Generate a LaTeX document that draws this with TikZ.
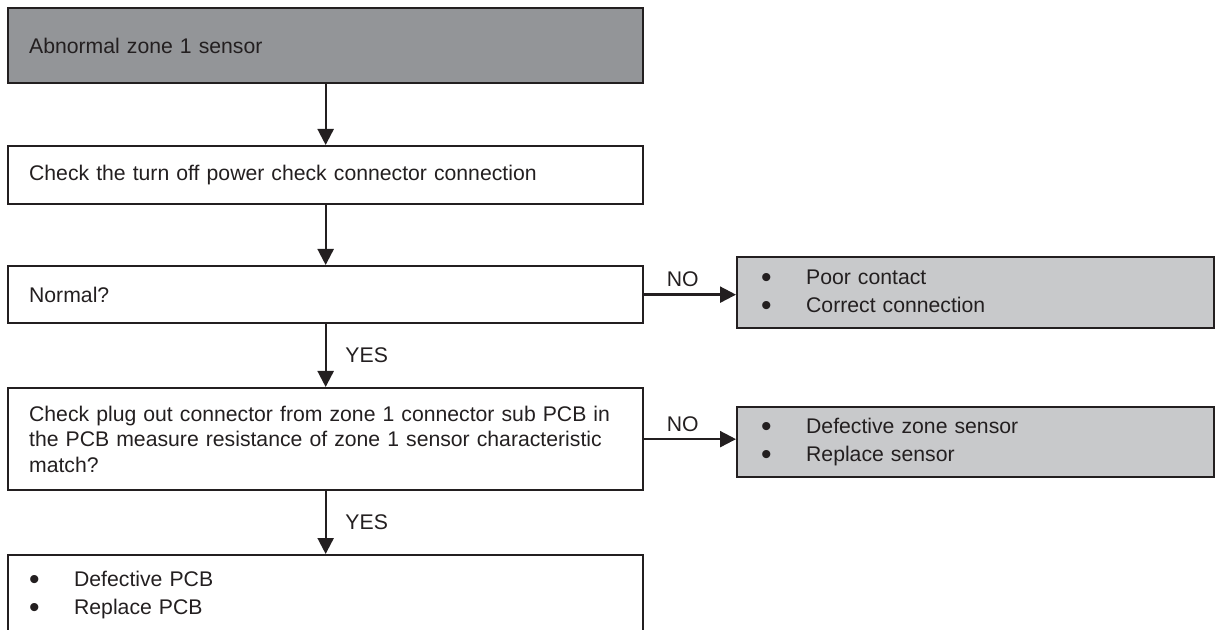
\documentclass[tikz,border=0pt]{standalone}
\usepackage{fontspec}
\setmainfont{Liberation Sans}
\usetikzlibrary{arrows.meta}
\definecolor{darkbox}{RGB}{147,149,152}
\definecolor{lightbox}{RGB}{200,201,203}
\definecolor{ink}{RGB}{35,31,32}
\newcommand\myitem[1]{\makebox[22.5pt][l]{\raisebox{-1.4pt}{\fontsize{15pt}{0pt}\selectfont\textbullet}}#1}
\begin{document}
\begin{tikzpicture}[x=0.5pt,y=-0.5pt,
  box/.style={draw=ink, line width=1.15pt, rectangle, anchor=north west,
    inner xsep=10.5pt, inner ysep=0pt, align=left, text=ink,
    font=\fontsize{10.6pt}{12.75pt}\selectfont,
    minimum width=317.5pt, text width=296.5pt},
  nobox/.style={box, fill=lightbox, inner xsep=12pt,
    minimum width=238.5pt, text width=214.5pt},
  arr/.style={draw=ink, line width=1.15pt, -{Triangle[length=8pt,width=8pt]}},
  lbl/.style={text=ink, font=\fontsize{10.6pt}{12.75pt}\selectfont}
]
\useasboundingbox (0,0) rectangle (1215,630);
\clip (0,0) rectangle (1215,630);

\node[box, fill=darkbox, minimum height=37.5pt] (b1) at (7,7) {Abnormal zone 1 sensor};
\node[box, minimum height=29pt] (b2) at (7,145) {Check the turn off power check connector connection};
\node[box, minimum height=28.5pt] (b3) at (7,265) {Normal?};
\node[box, minimum height=51pt] (b4) at (7,387) {Check plug out connector from zone 1 connector sub PCB in\\the PCB measure resistance of zone 1 sensor characteristic\\match?};
\node[box, minimum height=40pt] (b5) at (7,554) {\myitem{Defective PCB}\\[1.2pt]\myitem{Replace PCB}};

\node[nobox, minimum height=35.5pt] (n1) at (736,256) {\myitem{Poor contact}\\[1.2pt]\myitem{Correct connection}};
\node[nobox, minimum height=35pt] (n2) at (736,406) {\myitem{Defective zone sensor}\\[1.2pt]\myitem{Replace sensor}};

\draw[arr] (b1.south) -- (b2.north);
\draw[arr] (b2.south) -- (b3.north);
\draw[arr] (b3.south) -- node[lbl, right, xshift=6pt] {YES} (b4.north);
\draw[arr] (b4.south) -- node[lbl, right, xshift=6pt] {YES} (b5.north);
\draw[arr] (b3.east) -- node[lbl, above, pos=0.42] {NO} (n1.west |- b3.east);
\draw[arr] (b4.east) -- node[lbl, above, pos=0.42] {NO} (n2.west |- b4.east);
\end{tikzpicture}
\end{document}
